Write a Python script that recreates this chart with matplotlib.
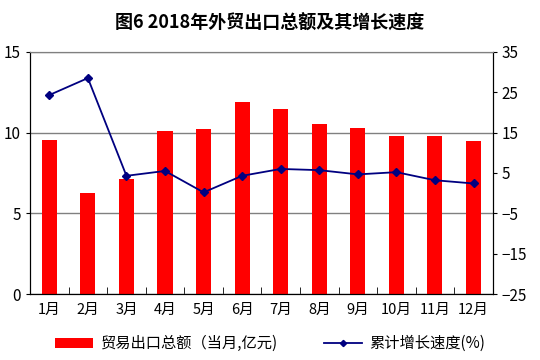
import matplotlib
matplotlib.use("Agg")
import matplotlib.pyplot as plt
import numpy as np

plt.rcParams['font.family'] = ['Noto Sans CJK SC', 'DejaVu Sans']

months = ['1月', '2月', '3月', '4月', '5月', '6月', '7月', '8月', '9月', '10月', '11月', '12月']
export_total = [9.55, 6.26, 7.13, 10.1, 10.23, 11.9, 11.47, 10.54, 10.3, 9.8, 9.8, 9.49]
growth_rate = [24.3, 28.5, 4.3, 5.5, 0.2, 4.3, 6.0, 5.7, 4.65, 5.2, 3.2, 2.4]

fig = plt.figure(figsize=(5.4, 3.6), dpi=100)
ax = fig.add_axes([0.0556, 0.183, 0.857, 0.673])
x = np.arange(len(months))

bars = ax.bar(x, export_total, width=0.39, color='#FF0000', zorder=2)
ax.set_xlim(-0.5, len(months) - 0.5)
ax.set_ylim(0, 15)
ax.set_yticks([0, 5, 10, 15])
ax.yaxis.grid(True, color='#808080', linewidth=1)
ax.set_axisbelow(True)
ax.set_xticks(x)
ax.set_xticklabels(months, fontsize=10.5)
ax.set_xticks(np.arange(0.5, len(months) - 1, 1), minor=True)
ax.tick_params(axis='x', which='major', length=0, pad=6)
ax.tick_params(axis='x', which='minor', direction='in', length=5)
ax.tick_params(axis='y', labelsize=11, length=3)

ax2 = ax.twinx()
line, = ax2.plot(x, growth_rate, color='#000080', marker='D', markersize=4.5,
                 linewidth=1.3)
ax2.set_ylim(-25, 35)
ax2.set_yticks([-25, -15, -5, 5, 15, 25, 35])
ax2.tick_params(axis='y', labelsize=11, length=3)

for a in (ax, ax2):
    for s in a.spines.values():
        s.set_color('black')
        s.set_linewidth(0.8)
ax.spines['top'].set_color('#808080')
ax2.spines['top'].set_color('#808080')

fig.text(0.5, 0.935, '图6 2018年外贸出口总额及其增长速度', ha='center', va='center',
         fontsize=13, fontweight='bold')
fig.legend([bars, line], ['贸易出口总额（当月,亿元)', '累计增长速度(%)'],
           loc='center', bbox_to_anchor=(0.5, 0.045), ncol=2, frameon=False,
           fontsize=11, handlelength=2.5, columnspacing=3, handletextpad=0.5,
           markerscale=0.7)

fig.savefig('out.png', dpi=100)
